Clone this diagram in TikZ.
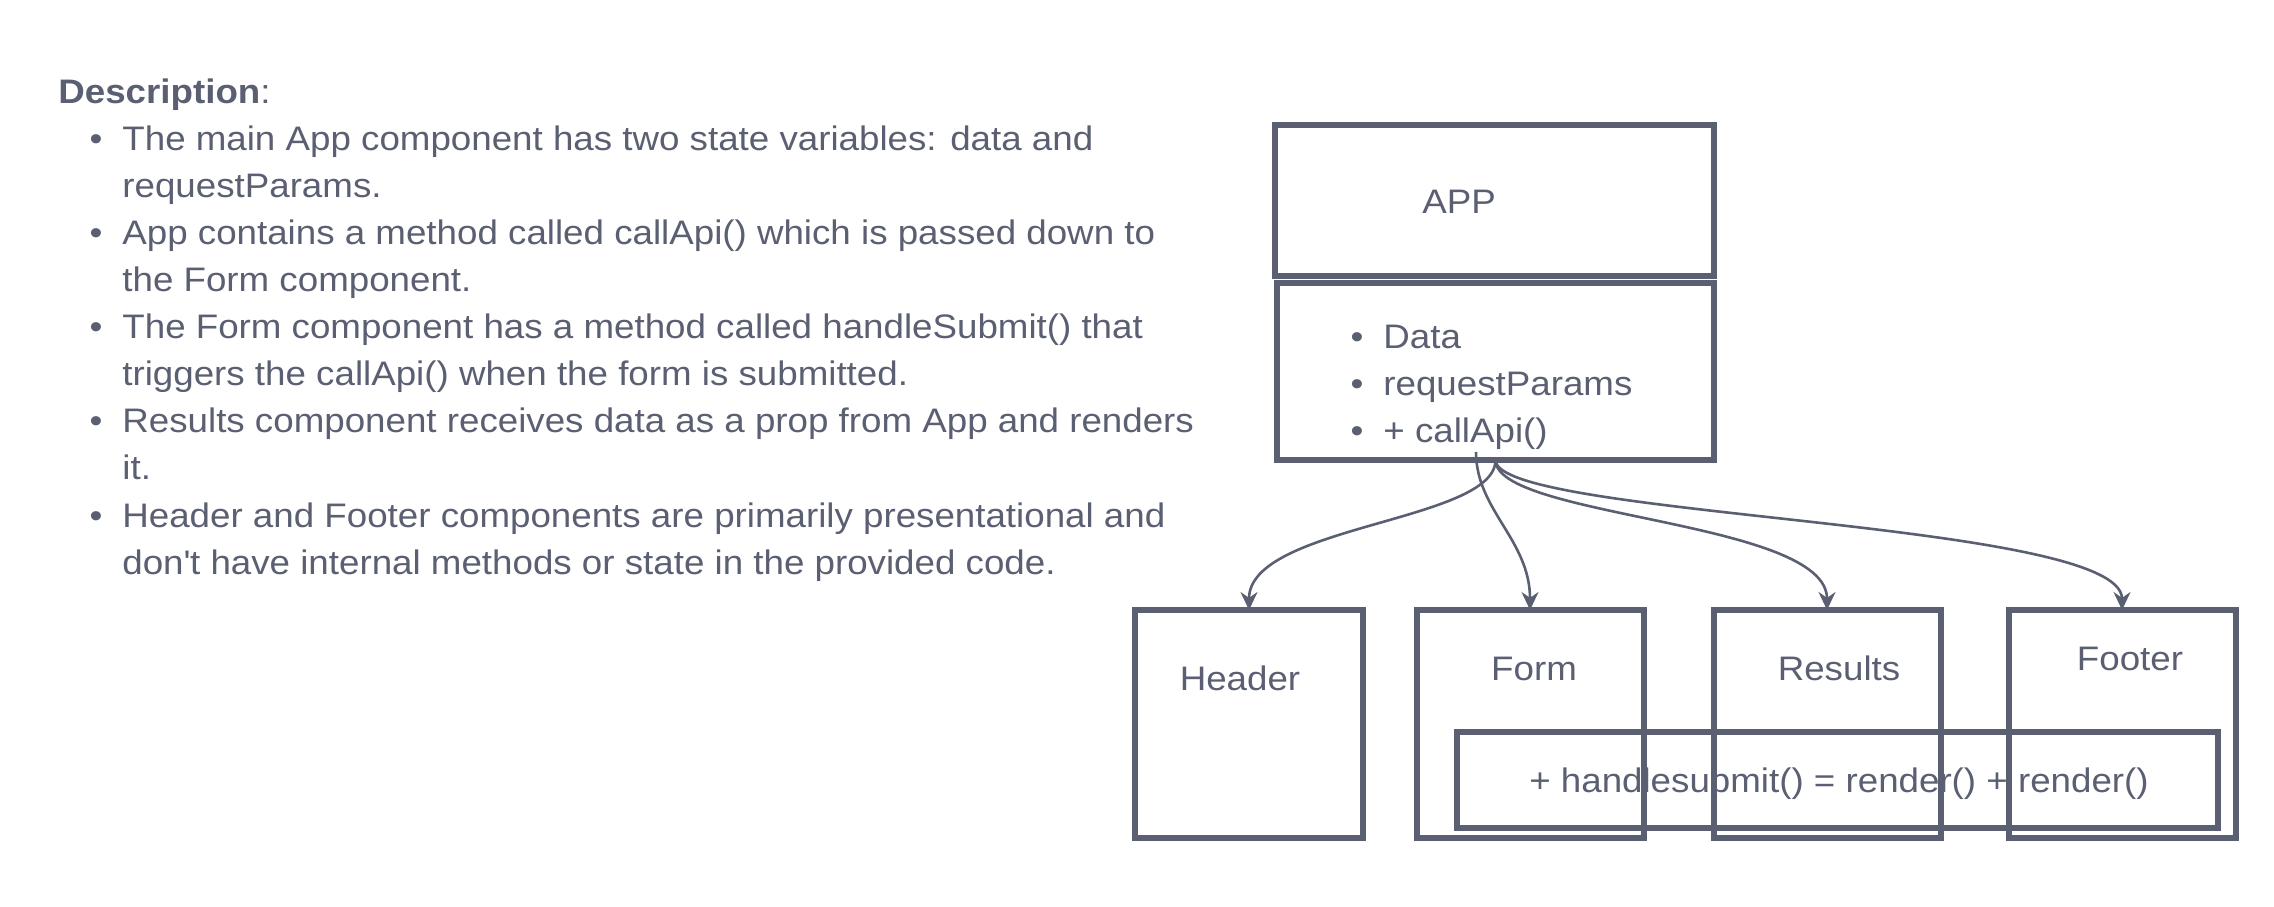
\documentclass[tikz,border=0pt]{standalone}
\usepackage{fontspec}
\setmainfont[FakeStretch=1.08]{Liberation Sans}
\usetikzlibrary{arrows.meta}
\definecolor{ink}{HTML}{5A5F72}

\begin{document}
\begin{tikzpicture}[x=0.5pt, y=0.5pt, every node/.style={text=ink, inner sep=0pt, font=\fontsize{17}{23.5}\selectfont}]
\useasboundingbox (0,0) rectangle (2274,-906);

\coordinate (S_Form) at (1476,-452);


\node[anchor=base west] (D0) at (58,-103) {\textbf{Description}:};
\node[anchor=base] (P1) at (96,-150) {\textbullet};
\node[anchor=base west] (L1_1) at (122,-150) {The main App component has two state variables: data and};
\node[anchor=base west] (L1_2) at (122,-197) {requestParams.};
\node[anchor=base] (P2) at (96,-244) {\textbullet};
\node[anchor=base west] (L2_1) at (122,-244) {App contains a method called callApi() which is passed down to};
\node[anchor=base west] (L2_2) at (122,-291) {the Form component.};
\node[anchor=base] (P3) at (96,-338) {\textbullet};
\node[anchor=base west] (L3_1) at (122,-338) {The Form component has a method called handleSubmit() that};
\node[anchor=base west] (L3_2) at (122,-385) {triggers the callApi() when the form is submitted.};
\node[anchor=base] (P4) at (96,-432) {\textbullet};
\node[anchor=base west] (L4_1) at (122,-432) {Results component receives data as a prop from App and renders};
\node[anchor=base west] (L4_2) at (122,-479) {it.};
\node[anchor=base] (P5) at (96,-527) {\textbullet};
\node[anchor=base west] (L5_1) at (122,-527) {Header and Footer components are primarily presentational and};
\node[anchor=base west] (L5_2) at (122,-574) {don\textquotesingle t have internal methods or state in the provided code.};


\tikzset{BoxStyle/.style = {
 draw = ink,
 line width = 3pt,
 inner sep = 0pt,
 outer sep = 0pt} }

\node[BoxStyle, minimum width=219.5pt, minimum height=75.5pt] (B_App) at (1494,-200.5) {};
\node[anchor=base] (T_App) at (1459,-213) {APP};
\node[BoxStyle, minimum width=218.5pt, minimum height=88.5pt] (B_Attr) at (1495.5,-371.5) {};
\node[anchor=base] (Q1) at (1357,-348) {\textbullet};
\node[anchor=base west] (T_Data) at (1383,-348) {Data};
\node[anchor=base] (Q2) at (1357,-395) {\textbullet};
\node[anchor=base west] (T_Params) at (1383,-395) {requestParams};
\node[anchor=base] (Q3) at (1357,-442) {\textbullet};
\node[anchor=base west] (T_Call) at (1383,-442) {+ callApi()};

\node[BoxStyle, minimum width=380.5pt, minimum height=48pt] (B_Submit) at (1837,-780) {};
\node[anchor=base] (T_Submit) at (1839,-792) {+ handlesubmit() = render() + render()};

\node[BoxStyle, minimum width=114pt, minimum height=114pt] (B_Header) at (1249,-724) {};
\node[anchor=base] (T_Header) at (1240,-690) {Header};
\node[BoxStyle, minimum width=113.5pt, minimum height=114pt] (B_Form) at (1530,-724) {};
\node[anchor=base] (T_Form) at (1534,-680) {Form};
\node[BoxStyle, minimum width=113.5pt, minimum height=114pt] (B_Results) at (1827,-724) {};
\node[anchor=base] (T_Results) at (1839,-680) {Results};
\node[BoxStyle, minimum width=113.5pt, minimum height=114pt] (B_Footer) at (2122,-724) {};
\node[anchor=base] (T_Footer) at (2130,-670) {Footer};


\tikzset{EdgeStyle/.style = {draw=ink, line width=1.3pt, -{Stealth[length=9pt, width=8.5pt]}} }

\draw[EdgeStyle] (B_Attr.south) .. controls +(0,-62) and +(0,85) .. (B_Header.north);
\draw[EdgeStyle] (S_Form) .. controls +(0,-58) and +(0,70) .. (B_Form.north);
\draw[EdgeStyle] (B_Attr.south) .. controls +(0,-58) and +(0,90) .. (B_Results.north);
\draw[EdgeStyle] (B_Attr.south) .. controls +(0,-58) and +(0,90) .. (B_Footer.north);

\end{tikzpicture}
\end{document}
